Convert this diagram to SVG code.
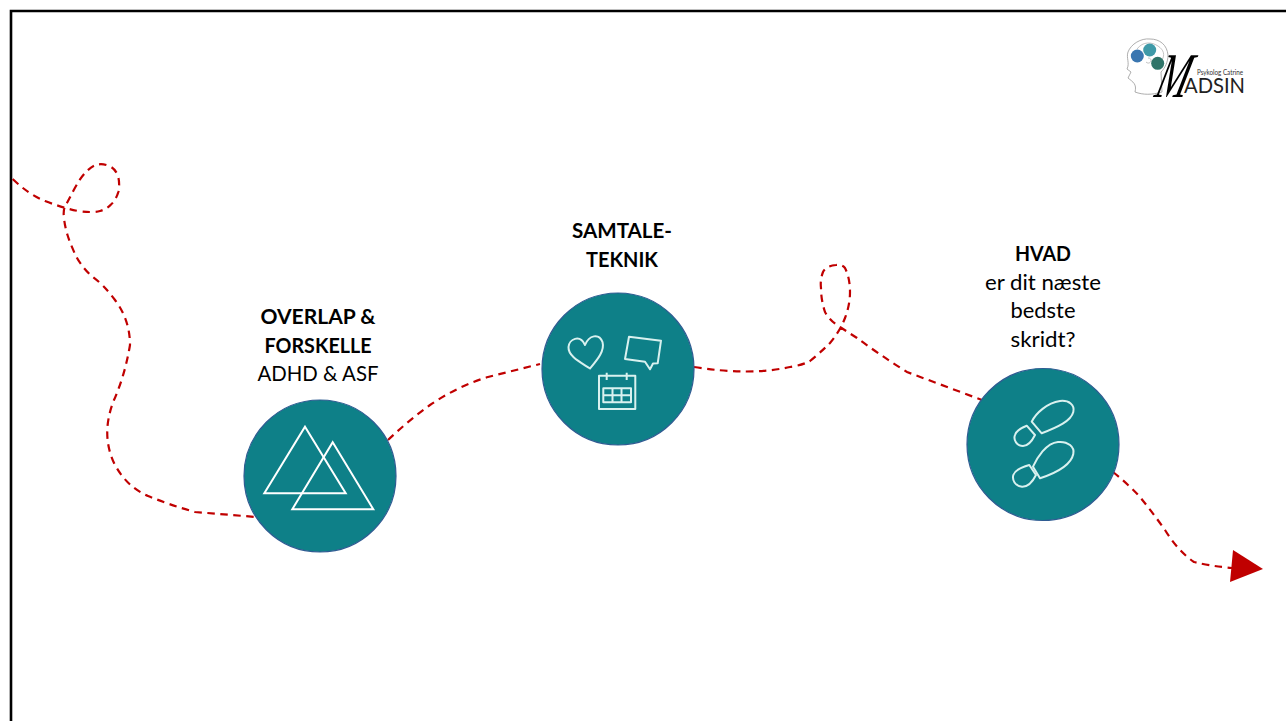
<svg xmlns="http://www.w3.org/2000/svg" width="1286" height="721" viewBox="0 0 1286 721">
<style>
text{font-family:"Lato","Carlito","Liberation Sans",sans-serif;font-size:21.3px;fill:#000;text-anchor:middle}
.b{font-weight:700}
.disc{fill:#0E8088;stroke:#2F5C92;stroke-width:1.2}
.dash{fill:none;stroke:#C00000;stroke-width:2.2;stroke-dasharray:7.500 5.500}
.icon{fill:none;stroke:#D9F1EF;stroke-width:2;stroke-linejoin:round}
.tri{fill:none;stroke:#fff;stroke-width:2}
</style>
<rect width="1286" height="721" fill="#fff"/>
<path id="frame" d="M11 721V11H1286" fill="none" stroke="#000" stroke-width="2.6"/>
<g id="connectors">
<path class="dash" d="M12.700 179Q28 194 45 201Q63 208 78 211Q93 213 100 211Q107 209 111 204.500Q116 200 118.500 191.500Q120 183 118 176Q115 168 109 166Q103 163.500 98 164.500Q93 165 86.500 171.500Q80 178 73.500 190.500Q67 203 65 206.500Q63 210 64 218.500Q65 227 67.500 235Q70 243 75 254Q80 265 91.500 276Q103 284 115 300Q130 320 130 345Q125 375 114 400Q100 435 115 465Q127 487 148 496Q170 505 195 512L256 517"/>
<path class="dash" d="M388 440Q408 421 430 405Q458 386 488 377L540 364"/>
<path class="dash" d="M694 367Q750 376 790 367Q803 365 810 361Q821 352 830 343Q840 331 845 318Q850 305 850 292Q850 278 845 268Q842 264 836 265Q826 266 823 272Q820 280 821 288Q821 300 825 312Q830 321 840 327L857 338Q880 355 907 372L982 400"/>
<path class="dash" d="M1113 472Q1128 484 1140 497Q1153 513 1165 530Q1178 551 1194 562Q1210 566 1232 568"/>
<polygon points="1233,550 1263,569 1230,582" fill="#C00000"/>
</g>
<g id="node-overlap">
<text class="b" x="318" y="324" textLength="115" lengthAdjust="spacingAndGlyphs">OVERLAP &amp;</text>
<text class="b" x="318" y="353" textLength="107" lengthAdjust="spacingAndGlyphs">FORSKELLE</text>
<text x="318" y="381" textLength="121" lengthAdjust="spacingAndGlyphs">ADHD &amp; ASF</text>
<circle class="disc" cx="320" cy="476" r="76"/>
<polygon class="tri" points="305,426.700 345.700,493.300 264.300,493.300"/>
<polygon class="tri" points="332.700,442.300 373.300,509.300 292.300,509.300"/>
</g>
<g id="node-samtale">
<text class="b" x="622" y="238" textLength="100" lengthAdjust="spacingAndGlyphs">SAMTALE-</text>
<text class="b" x="622" y="267" textLength="72" lengthAdjust="spacingAndGlyphs">TEKNIK</text>
<circle class="disc" cx="618" cy="369" r="76"/>
<path class="icon" d="M590 368.500C580 362 568 356 568.500 347C569 339 580 334 585 345C589 335 599 333 602.500 342C605 351 597 360 590 368.500Z"/>
<path class="icon" d="M629 336.700L661 340.700L657.700 363.300L653 363.500L650 369.300L645 361.700L625 359Z"/>
<rect class="icon" x="599" y="375.700" width="36.300" height="33.300"/>
<path class="icon" d="M606.700 372.700V380M626.700 372.700V380M603.300 388.300H631V402.300H603.300ZM603.300 395.300H631M612.500 388.300V402.300M621.500 388.300V402.300"/>
</g>
<g id="node-hvad">
<text class="b" x="1043" y="261" textLength="56" lengthAdjust="spacingAndGlyphs">HVAD</text>
<text x="1043" y="290" textLength="116" lengthAdjust="spacingAndGlyphs">er dit næste</text>
<text x="1043" y="318" textLength="65" lengthAdjust="spacingAndGlyphs">bedste</text>
<text x="1043" y="347" textLength="65" lengthAdjust="spacingAndGlyphs">skridt?</text>
<circle class="disc" cx="1043" cy="444.500" r="76"/>
<path class="icon" d="M1031.700 421.700C1036 413 1047 403 1060 401C1069 400 1075 405 1073.300 412C1071 421 1058 427 1041.700 433.300Z"/>
<path class="icon" d="M1026.700 425.700L1035 435C1032 441 1028 446 1023 446C1017 446 1013 440 1015 435C1016 431 1021 428 1026.700 425.700Z"/>
<path class="icon" d="M1033 466.700C1037 458 1046 443 1058 442C1068 441 1075 447 1073.300 454C1071 465 1056 473 1040 478.300Z"/>
<path class="icon" d="M1029.300 465L1036 475C1033 481 1028 487 1022 486.700C1015 486 1012 480 1013.300 475C1015 470 1022 467 1029.300 465Z"/>
</g>
<g id="logo">
<path d="M1135 92C1137 84 1133 82 1128 78L1131 72L1127 69C1130 63 1126 58 1128 52C1131 44 1141 38 1150 39C1160 39 1167 45 1168 55C1168 62 1165 68 1161 72L1162 92C1152 95 1143 95 1135 92Z" fill="none" stroke="#999" stroke-width=".8"/>
<path d="M1137 49C1143 41 1152 42 1158 46C1164 50 1165 55 1162 60M1146 62C1150 66 1154 58 1148 58" fill="none" stroke="#aaa" stroke-width=".7"/>
<circle cx="1137.300" cy="56" r="6.500" fill="#3A76B0"/>
<circle cx="1149.700" cy="50" r="6.500" fill="#3F9AA8"/>
<circle cx="1157.700" cy="63.300" r="6.500" fill="#2F7468"/>
<text transform="matrix(.68 0 -.32 1.14 1169 97)" style="font-size:56px;font-family:'Liberation Serif',serif;font-style:italic">M</text>
<text x="1197" y="75" style="font-size:7.500px;text-anchor:start;fill:#333" textLength="46" lengthAdjust="spacingAndGlyphs">Psykolog Catrine</text>
<text x="1184" y="93" style="font-size:21px;text-anchor:start;fill:#222" textLength="61" lengthAdjust="spacingAndGlyphs">ADSIN</text>
</g>
</svg>
